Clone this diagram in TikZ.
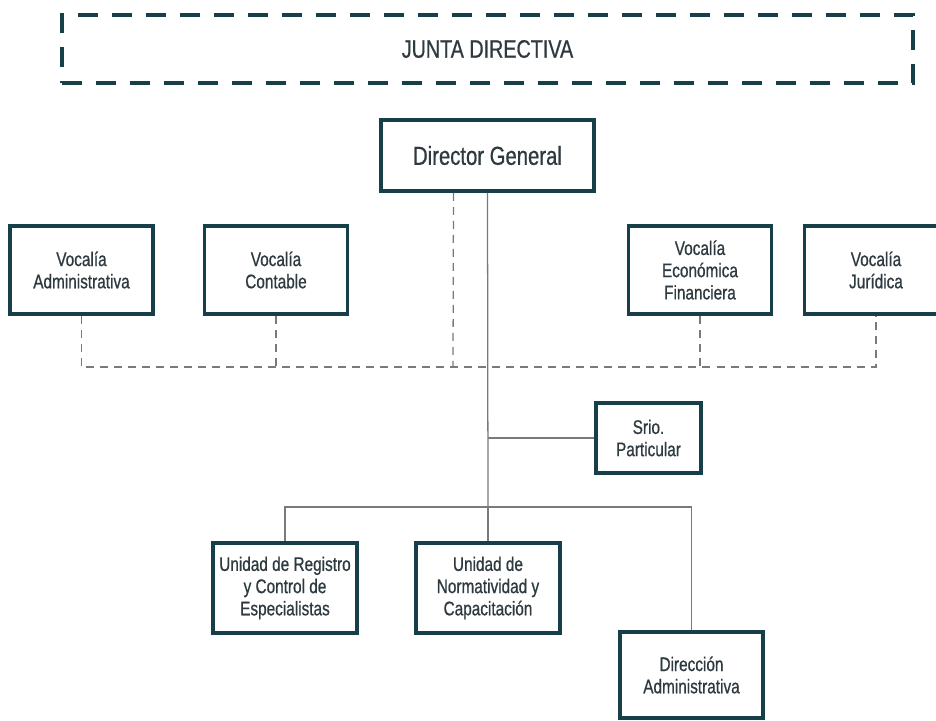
\documentclass[tikz,border=0pt]{standalone}
\usepackage{fontspec}
\setmainfont{Liberation Sans}[FakeStretch=0.78, FakeBold=0.7]
\usepackage{tikz}
\usetikzlibrary{positioning}
\definecolor{orgteal}{HTML}{173F4A}
\definecolor{orgink}{HTML}{2E3A3F}
\definecolor{linkgray}{HTML}{7A7A7A}

\begin{document}
\begin{tikzpicture}[
  x=0.025cm, y=-0.025cm,
  font=\fontsize{14}{15.8}\selectfont\color{orgink},
  jd/.style={draw=orgteal, line width=3pt, dash pattern=on 0.5cm off 0.35cm,
             minimum width=21.275cm, minimum height=1.7cm, inner sep=0pt,
             font=\fontsize{18}{20}\selectfont\color{orgink}},
  ofc/.style={draw=orgteal, line width=2.6pt, fill=white, align=center, inner sep=2pt},
  dir/.style={ofc, minimum width=5.325cm, minimum height=1.775cm,
              font=\fontsize{18.5}{21}\selectfont\color{orgink}},
  vocal/.style={ofc, minimum width=3.575cm, minimum height=2.2cm},
  unit/.style={ofc, minimum width=3.6cm, minimum height=2.25cm},
  srio/.style={ofc, minimum width=2.625cm, minimum height=1.75cm},
  bus/.style={draw=linkgray, line width=0.9pt, dash pattern=on 0.2cm off 0.15cm},
  tie/.style={draw=linkgray, line width=0.9pt},
]
\useasboundingbox (0,0) rectangle (936,721);
\node[jd] (junta) at (487.5,49) {JUNTA DIRECTIVA};
\node[dir] (dg) at (487.5,155.5) {Director General};
\node[vocal] (va) at (81.5,270) {Vocalía\\Administrativa};
\node[vocal] (vc) at (276,270) {Vocalía\\Contable};
\node[vocal] (ve) at (700,270) {Vocalía\\Económica\\Financiera};
\node[vocal] (vj) at (876,270) {Vocalía\\Jurídica};
\node[srio] (sp) at (648.5,438) {Srio.\\Particular};
\node[unit] (ur) at (285,588) {Unidad de Registro\\y Control de\\Especialistas};
\node[unit] (un) at (488,588) {Unidad de\\Normatividad y\\Capacitación};
\node[vocal, minimum height=2.15cm] (da) at (691.5,675) {Dirección\\Administrativa};
\coordinate (vbus) at (453,367);
\coordinate (ubus) at (488,507);
\begin{scope}[on background layer/.try]
\draw[bus] (va.south) |- (vbus -| vj.south) -- (vj.south);
\draw[bus] (vc.south) -- (vc.south |- vbus);
\draw[bus] (ve.south) -- (ve.south |- vbus);
\draw[bus] ([xshift=-0.85cm]dg.south) -- (vbus);
\draw[tie] (dg.south) -- (ubus);
\draw[tie] (sp.west) -- (sp.west -| dg.south);
\draw[tie] (ur.north) |- (ubus) -| (da.north);
\draw[tie] (ubus) -- (un.north);
\end{scope}
\end{tikzpicture}
\end{document}
